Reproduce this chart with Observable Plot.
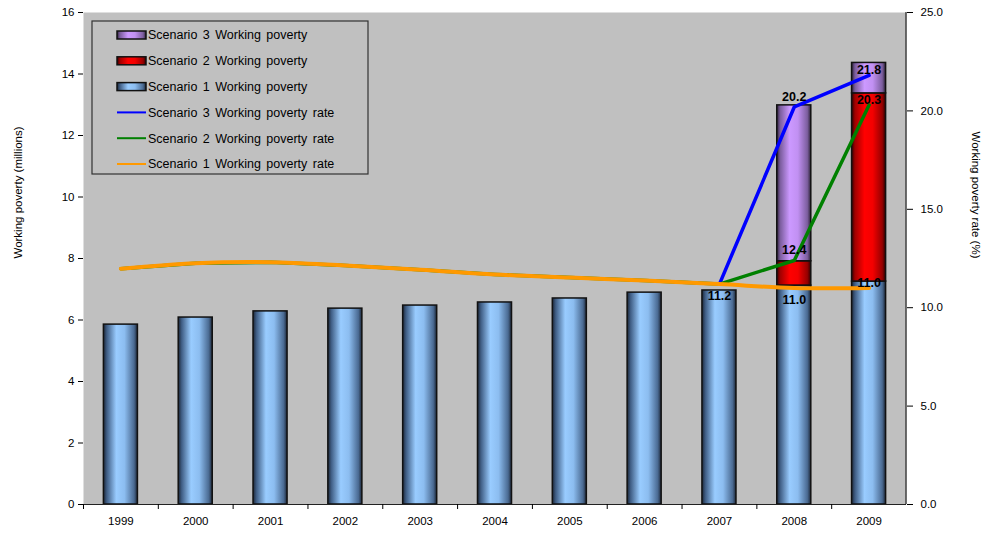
<!DOCTYPE html>
<html>
<head>
<meta charset="utf-8">
<script src="https://cdn.jsdelivr.net/npm/d3@7"></script>
<script src="https://cdn.jsdelivr.net/npm/@observablehq/plot@0.6"></script>
<style>
  html, body { margin: 0; padding: 0; background: #fff; }
  #chart { position: relative; width: 987px; height: 536px; font-family: "Liberation Sans", Arial, sans-serif; }
  #chart svg { display: block; }
</style>
</head>
<body>
<div id="chart"></div>
<script>
// ---- data ----
const years = [1999, 2000, 2001, 2002, 2003, 2004, 2005, 2006, 2007, 2008, 2009];
// Working poverty (millions), cumulative bar tops
const s1Poverty = [5.85, 6.08, 6.28, 6.37, 6.47, 6.57, 6.70, 6.89, 6.96, 7.12, 7.25];
const s2Poverty = [null, null, null, null, null, null, null, null, null, 7.91, 13.37];
const s3Poverty = [null, null, null, null, null, null, null, null, null, 12.98, 14.36];
// Working poverty rate (%)
const s1Rate = [11.98, 12.26, 12.31, 12.14, 11.93, 11.69, 11.53, 11.38, 11.2, 11.0, 11.0];
const s2Rate = [11.98, 12.26, 12.31, 12.14, 11.93, 11.69, 11.53, 11.38, 11.2, 12.4, 20.3];
const s3Rate = [11.98, 12.26, 12.31, 12.14, 11.93, 11.69, 11.53, 11.38, 11.2, 20.2, 21.8];
const leftTicks = [0, 2, 4, 6, 8, 10, 12, 14, 16];
const rightTicks = [0, 5, 10, 15, 20, 25];
const barSeries = ["Scenario 1 Working poverty", "Scenario 2 Working poverty", "Scenario 3 Working poverty"];
const lineSeries = ["Scenario 3 Working poverty rate", "Scenario 2 Working poverty rate", "Scenario 1 Working poverty rate"];
const leftTitle = "Working poverty (millions)";
const rightTitle = "Working poverty rate (%)";

// ---- derived tables ----
const RATE_MAX = 25, LEFT_MAX = 16;
const toLeft = r => r * LEFT_MAX / RATE_MAX;
const bars = [];
years.forEach((y, i) => {
  bars.push({year: y, series: barSeries[0], value: s1Poverty[i]});
});
years.forEach((y, i) => {
  if (s2Poverty[i] != null) bars.push({year: y, series: barSeries[1], value: s2Poverty[i] - s1Poverty[i]});
});
years.forEach((y, i) => {
  if (s3Poverty[i] != null) bars.push({year: y, series: barSeries[2], value: s3Poverty[i] - s2Poverty[i]});
});
const rateRows = (arr) => years.map((y, i) => ({year: y, rate: arr[i], yv: toLeft(arr[i])}));
const r1 = rateRows(s1Rate), r2 = rateRows(s2Rate), r3 = rateRows(s3Rate);
// data labels
const labelsBelow = [r1[8], r1[9]];
const labelsAbove = [r2[9], r3[9]];
const labelsNear = [r1[10], r2[10], r3[10]];

const W = 987, H = 536;
const mL = 83, mR = 81, mT = 12, mB = 32;
const halfBand = (W - mL - mR) / years.length / 2;
const font = "Liberation Sans, Arial, sans-serif";

const plot = Plot.plot({
  width: W, height: H,
  marginLeft: mL, marginRight: mR, marginTop: mT, marginBottom: mB,
  style: {fontFamily: font, fontSize: "11px", color: "#000", background: "#fff"},
  x: {type: "band", domain: years, paddingInner: 0.545, paddingOuter: 0.2725, round: false, label: null},
  y: {domain: [0, LEFT_MAX], label: null},
  color: {domain: barSeries, range: ["url(#gBlue)", "url(#gRed)", "url(#gPurple)"]},
  marks: [
    Plot.frame({fill: "#c0c0c0", stroke: null}),
    Plot.barY(bars, {x: "year", y: "value", fill: "series", stroke: "#111", strokeWidth: 1.5}),
    Plot.line(r3.slice(8), {x: "year", y: "yv", stroke: "#0000ff", strokeWidth: 3.5}),
    Plot.line(r2, {x: "year", y: "yv", stroke: "#008000", strokeWidth: 3.5}),
    Plot.line(r1, {x: "year", y: "yv", stroke: "#ff9900", strokeWidth: 4, curve: "catmull-rom"}),
    Plot.text(labelsBelow, {x: "year", y: "yv", text: d => d.rate.toFixed(1), dy: 12, fontWeight: "bold", fontSize: 12.5, fill: "#000"}),
    Plot.text(labelsAbove, {x: "year", y: "yv", text: d => d.rate.toFixed(1), dy: -10, fontWeight: "bold", fontSize: 12.5, fill: "#000"}),
    Plot.text(labelsNear, {x: "year", y: "yv", text: d => d.rate.toFixed(1), dy: -5, fontWeight: "bold", fontSize: 12.5, fill: "#000"}),
    Plot.ruleY([0], {stroke: "#222", strokeWidth: 1.2}),
    Plot.axisY(leftTicks, {anchor: "left", tickSize: 5, tickPadding: 4, label: null, fontSize: 11.5}),
    Plot.ruleX([0], {frameAnchor: "left", stroke: "#222", strokeWidth: 1.2}),
    Plot.axisY(rightTicks.map(toLeft), {anchor: "right", tickSize: 6, tickPadding: 8, label: null, fontSize: 11.5,
      tickFormat: d => (d * RATE_MAX / LEFT_MAX).toFixed(1)}),
    Plot.axisX({anchor: "bottom", tickSize: 0, tickPadding: 12, label: null, fontSize: 11.5, tickFormat: d => String(d)}),
    Plot.axisX({anchor: "bottom", tickSize: 5, text: null, label: null, dx: -halfBand}),
    Plot.text([leftTitle], {frameAnchor: "left", rotate: -90, dx: -65, fontSize: 11.5, fill: "#000"}),
    Plot.text([rightTitle], {frameAnchor: "right", rotate: 90, dx: 69, dy: 0, fontSize: 11.5, fill: "#000"})
  ]
});

// right axis line
const svg = d3.select(plot);
svg.append("line").attr("x1", W - mR).attr("x2", W - mR).attr("y1", mT).attr("y2", H - mB)
  .attr("stroke", "#222").attr("stroke-width", 1.2);

// gradients for cylinder-like bars
const defs = svg.insert("defs", ":first-child");
function grad(id, stops) {
  const g = defs.append("linearGradient").attr("id", id).attr("x1", "0").attr("x2", "1").attr("y1", "0").attr("y2", "0");
  stops.forEach(([o, c]) => g.append("stop").attr("offset", o).attr("stop-color", c));
}
grad("gBlue", [[0, "#1c2636"], [0.1, "#3f5d84"], [0.38, "#99ccff"], [0.62, "#8cbdf0"], [0.9, "#4a6a92"], [1, "#1c2636"]]);
grad("gRed", [[0, "#300000"], [0.1, "#a00000"], [0.38, "#ff0000"], [0.62, "#f40000"], [0.9, "#960000"], [1, "#300000"]]);
grad("gPurple", [[0, "#2c2236"], [0.1, "#7a5c9c"], [0.38, "#cc99ff"], [0.62, "#c190f2"], [0.9, "#7c5e9e"], [1, "#2c2236"]]);

// legend (inside plot area)
const lg = svg.append("g").attr("font-family", font).attr("font-size", 12.5).attr("text-anchor", "start");
lg.append("rect").attr("x", 92).attr("y", 21).attr("width", 276).attr("height", 153)
  .attr("fill", "#c0c0c0").attr("stroke", "#333").attr("stroke-width", 1.2);
const legendItems = [
  {label: barSeries[2], type: "bar", fill: "url(#gPurple)"},
  {label: barSeries[1], type: "bar", fill: "url(#gRed)"},
  {label: barSeries[0], type: "bar", fill: "url(#gBlue)"},
  {label: lineSeries[0], type: "line", stroke: "#0000ff"},
  {label: lineSeries[1], type: "line", stroke: "#008000"},
  {label: lineSeries[2], type: "line", stroke: "#ff9900"}
];
legendItems.forEach((it, i) => {
  const cy = 35 + i * 25.8;
  if (it.type === "bar") {
    lg.append("rect").attr("x", 117).attr("y", cy - 4).attr("width", 29).attr("height", 8)
      .attr("fill", it.fill).attr("stroke", "#111").attr("stroke-width", 1.5);
  } else {
    lg.append("line").attr("x1", 117).attr("x2", 146).attr("y1", cy).attr("y2", cy)
      .attr("stroke", it.stroke).attr("stroke-width", 2);
  }
  lg.append("text").attr("x", 148).attr("y", cy).attr("dy", "0.35em").attr("fill", "#000")
    .attr("text-anchor", "start").attr("word-spacing", "2px").text(it.label);
});

document.getElementById("chart").appendChild(plot);
</script>
</body>
</html>
